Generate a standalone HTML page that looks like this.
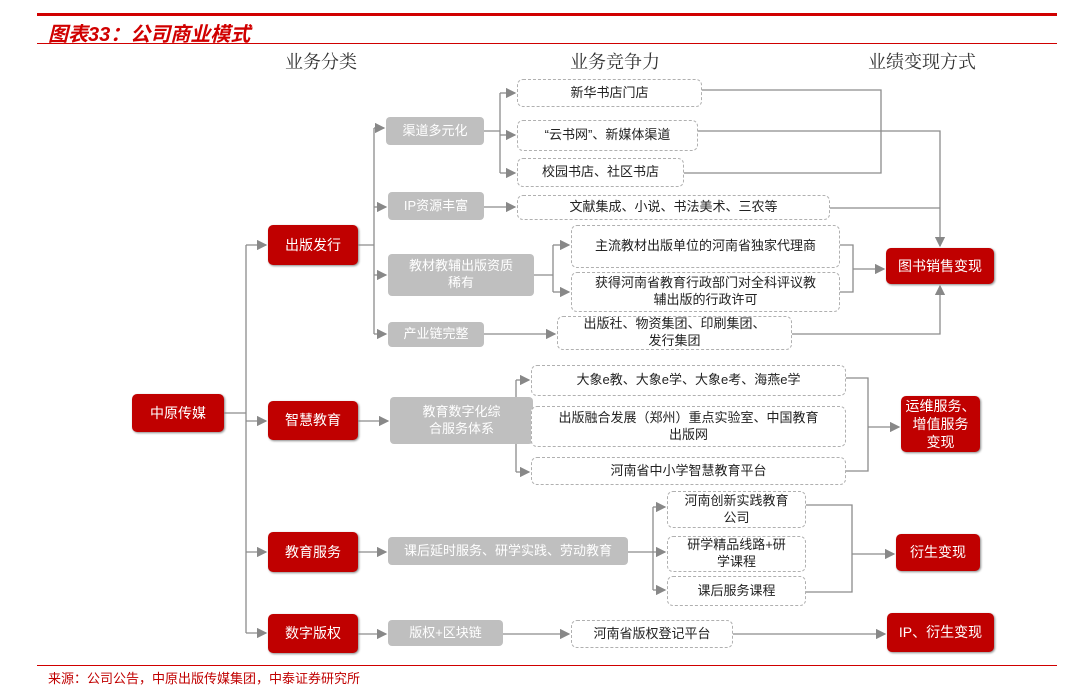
<!DOCTYPE html><html><head><meta charset="utf-8"><style>
body{margin:0;width:1071px;height:694px;background:#fff;position:relative;overflow:hidden;font-family:"Liberation Sans","Noto Sans CJK SC",sans-serif}
.a{position:absolute;display:flex;align-items:center;justify-content:center;text-align:center;box-sizing:border-box;line-height:1.3}
.r{background:#c00000;color:#fff;border-radius:5px;font-size:14px;box-shadow:1px 1px 2px #888}
.g{background:#bfbfbf;color:#fff;border-radius:4px;font-size:13px}
.d{border:1.3px dashed #b0b0b0;border-radius:6px;color:#222;font-size:13px;background:#fff}
.h{position:absolute;font-size:18px;color:#333;font-family:"Noto Serif CJK SC",serif}
</style></head><body>
<div style="position:absolute;left:37px;top:13px;width:1020px;height:3px;background:#d00000"></div>
<div style="position:absolute;left:48px;top:18px;font-size:20px;font-weight:bold;font-style:italic;color:#d00000">图表33：公司商业模式</div>
<div style="position:absolute;left:37px;top:43px;width:1020px;height:1px;background:#d00000"></div>
<div class="h" style="left:285px;top:48px">业务分类</div>
<div class="h" style="left:570px;top:48px">业务竞争力</div>
<div class="h" style="left:868px;top:48px">业绩变现方式</div>
<svg style="position:absolute;left:0;top:0" width="1071" height="694"><defs><marker id="m" markerWidth="8" markerHeight="8" refX="7" refY="4" orient="auto"><path d="M0,0L8,4L0,8z" fill="#888"/></marker></defs>
<g stroke="#8c8c8c" stroke-width="1.3" fill="none">
<path d="M224 413H246M246 245V633"/>
<path d="M358 245H374M374 128V334"/>
<path d="M484 131H500M500 93V173"/>
<path d="M534 275H553M553 245V292"/>
<path d="M702 90H881V173H684"/>
<path d="M830 208H940"/>
<path d="M840 245H853V292H840"/>
<path d="M533 421H516M516 380V472"/>
<path d="M846 378H868V471H846"/>
<path d="M653 507V590"/>
<path d="M806 505H852V592H806"/>
</g>
<g stroke="#8c8c8c" stroke-width="1.3" fill="none" marker-end="url(#m)">
<path d="M246 245H266"/><path d="M246 421H266"/><path d="M246 552H266"/><path d="M246 633H266"/>
<path d="M374 128H384"/><path d="M374 207H386"/><path d="M374 275H386"/><path d="M374 334H386"/>
<path d="M500 93H515"/><path d="M500 135H515"/><path d="M500 173H515"/><path d="M484 207H515"/>
<path d="M553 245H569"/><path d="M553 292H569"/><path d="M484 334H555"/>
<path d="M698 131H940V246"/>
<path d="M792 334H940V286"/>
<path d="M853 269H884"/>
<path d="M358 421H388"/>
<path d="M516 380H529"/><path d="M516 427H529"/><path d="M516 472H529"/>
<path d="M868 427H899"/>
<path d="M358 552H386"/><path d="M628 552H665"/><path d="M653 507H665"/><path d="M653 590H665"/>
<path d="M852 554H894"/>
<path d="M358 634H386"/><path d="M503 634H569"/><path d="M733 634H885"/>
</g></svg>
<div class="a r" style="left:132px;top:394px;width:92px;height:38px">中原传媒</div>
<div class="a r" style="left:268px;top:225px;width:90px;height:40px">出版发行</div>
<div class="a r" style="left:268px;top:401px;width:90px;height:39px">智慧教育</div>
<div class="a r" style="left:268px;top:532px;width:90px;height:40px">教育服务</div>
<div class="a r" style="left:268px;top:614px;width:90px;height:39px">数字版权</div>
<div class="a g" style="left:386px;top:117px;width:98px;height:28px">渠道多元化</div>
<div class="a g" style="left:388px;top:192px;width:96px;height:28px">IP资源丰富</div>
<div class="a g" style="left:388px;top:254px;width:146px;height:42px">教材教辅出版资质<br>稀有</div>
<div class="a g" style="left:388px;top:322px;width:96px;height:25px">产业链完整</div>
<div class="a g" style="left:390px;top:397px;width:143px;height:47px">教育数字化综<br>合服务体系</div>
<div class="a g" style="left:388px;top:537px;width:240px;height:28px">课后延时服务、研学实践、劳动教育</div>
<div class="a g" style="left:388px;top:620px;width:115px;height:26px">版权+区块链</div>
<div class="a d" style="left:517px;top:79px;width:185px;height:28px">新华书店门店</div>
<div class="a d" style="left:517px;top:120px;width:181px;height:31px">“云书网”、新媒体渠道</div>
<div class="a d" style="left:517px;top:158px;width:167px;height:29px">校园书店、社区书店</div>
<div class="a d" style="left:517px;top:195px;width:313px;height:25px">文献集成、小说、书法美术、三农等</div>
<div class="a d" style="left:571px;top:225px;width:269px;height:43px">主流教材出版单位的河南省独家代理商</div>
<div class="a d" style="left:571px;top:272px;width:269px;height:40px">获得河南省教育行政部门对全科评议教<br>辅出版的行政许可</div>
<div class="a d" style="left:557px;top:316px;width:235px;height:34px">出版社、物资集团、印刷集团、<br>发行集团</div>
<div class="a d" style="left:531px;top:365px;width:315px;height:31px">大象e教、大象e学、大象e考、海燕e学</div>
<div class="a d" style="left:531px;top:406px;width:315px;height:41px">出版融合发展（郑州）重点实验室、中国教育<br>出版网</div>
<div class="a d" style="left:531px;top:457px;width:315px;height:28px">河南省中小学智慧教育平台</div>
<div class="a d" style="left:667px;top:491px;width:139px;height:37px">河南创新实践教育<br>公司</div>
<div class="a d" style="left:667px;top:536px;width:139px;height:36px">研学精品线路+研<br>学课程</div>
<div class="a d" style="left:667px;top:576px;width:139px;height:30px">课后服务课程</div>
<div class="a d" style="left:571px;top:620px;width:162px;height:28px">河南省版权登记平台</div>
<div class="a r" style="left:886px;top:248px;width:108px;height:36px">图书销售变现</div>
<div class="a r" style="left:901px;top:396px;width:79px;height:56px">运维服务、<br>增值服务<br>变现</div>
<div class="a r" style="left:896px;top:534px;width:84px;height:37px">衍生变现</div>
<div class="a r" style="left:887px;top:613px;width:107px;height:39px">IP、衍生变现</div>
<div style="position:absolute;left:37px;top:665px;width:1020px;height:1px;background:#d00000"></div>
<div style="position:absolute;left:48px;top:668px;font-size:13px;color:#c00000">来源：公司公告，中原出版传媒集团，中泰证券研究所</div>
</body></html>
